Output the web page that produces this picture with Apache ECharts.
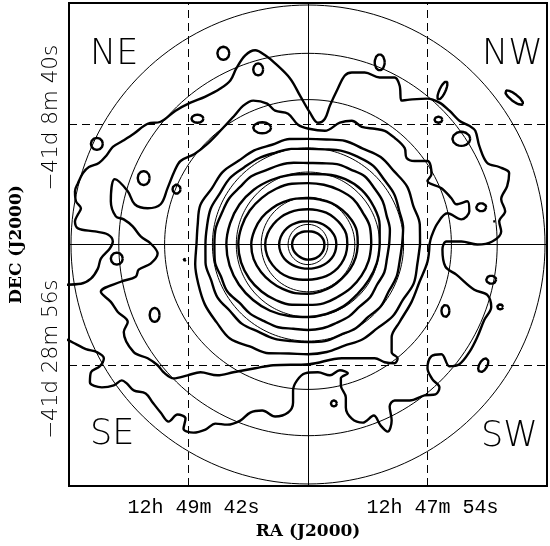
<!DOCTYPE html>
<html><head><meta charset="utf-8">
<script src="https://cdn.jsdelivr.net/npm/echarts@6/dist/echarts.min.js"></script>
<style>html,body{margin:0;padding:0;background:#fff}#c{width:550px;height:546px}</style>
</head><body><div id="c"></div>
<script>
// offsets from cluster centre (approx. arcsec-like units; dashed lines at +-120)
const xTickValues = [-120, 120];
const xTickLabels = ['12h 49m 42s', '12h 47m 54s'];
const yTickValues = [120, -120];
const yTickLabels = ['\u221241d 8m 40s', '\u221241d 28m 56s'];
const quadrantLabels = ['NE', 'NW', 'SE', 'SW'];
const refCircleRadii = [20, 47, 72, 96, 144, 190, 238];

// inner closed contours: radius at each position angle (0 = west/right, 90 = north)
const ringAngles = [0, 15, 30, 45, 60, 75, 90, 105, 120, 135, 150, 165, 180, 195, 210, 225, 240, 255, 270, 285, 300, 315, 330, 345];
const ring1 = [16.5, 16.3, 15.6, 14.8, 14, 13.4, 13, 13.4, 14, 14.8, 15.4, 15.8, 16, 15.8, 15.4, 15, 14.8, 14.9, 15, 15.2, 15.6, 16, 16.3, 16.5];
const ring2 = [28.5, 28.2, 27, 25.6, 24.4, 23.5, 23, 23.6, 24.6, 26, 27.3, 28.4, 29, 28.6, 27.6, 26.2, 25, 24.3, 24, 24.3, 25, 26.2, 27.4, 28.2];
const ring3 = [39.5, 39.8, 38.6, 37.4, 36.5, 35.4, 35, 35.6, 36.8, 38.5, 40.2, 42, 43, 42.4, 41, 39.5, 37.8, 36, 35, 35.2, 36.4, 37.5, 38.4, 39.2];
const ring4 = [50, 50.8, 50, 48.6, 47.5, 46.2, 46, 47.2, 48.8, 51, 53.5, 55.5, 57, 56.5, 54.5, 52.5, 51, 50, 49, 48.4, 48.2, 48, 48.8, 49.6];
const ring5 = [63.5, 64.5, 63.5, 64, 62.5, 61.5, 61, 62.5, 64, 65.5, 67.5, 69, 70, 69.5, 68, 66, 64, 62, 60, 60.5, 60, 61, 62, 63];
const ring6 = [72, 74.5, 76, 76.5, 75, 72, 70, 71.5, 74, 77, 79.5, 81, 82, 81.5, 80, 78, 76, 73.5, 72, 71.5, 71, 70, 70.5, 71.5];
// outer rings, finer angular sampling (every 10 degrees)
const ringAnglesFine = [0, 10, 20, 30, 40, 50, 60, 70, 80, 90, 100, 110, 120, 130, 140, 150, 160, 170, 180, 190, 200, 210, 220, 230, 240, 250, 260, 270, 280, 290, 300, 310, 320, 330, 340, 350];
const ring7 = [81.5, 83.5, 84, 86.5, 87, 88.5, 86, 85, 82, 81, 82.5, 84, 85, 88.5, 89, 91.5, 92, 94, 94, 95, 93, 93.5, 90, 90, 88, 87.5, 85, 85, 84.5, 83, 82.5, 80.5, 81.5, 80, 81.5, 80.5];
const ring8 = [94.5, 97, 97.5, 100, 100, 102, 100.5, 99, 96, 95, 96.5, 97, 99, 100, 102.5, 102, 104, 103, 103, 104.5, 103.5, 105, 102.5, 103, 100, 99.5, 97.5, 97, 97.5, 95.5, 96, 94, 95.5, 93.5, 94.5, 93.5];
const ring9 = [112.5, 114, 112.5, 115, 113, 113.5, 110, 109.5, 106, 105, 106.5, 105.5, 108, 108.5, 112, 111.5, 115, 112.5, 112, 115, 117, 119.5, 120, 122, 117, 115, 110, 109, 108.5, 107, 109, 108.5, 111, 110, 113, 111.5];

// second-lowest contour level (irregular)
const contourL2 = [[122,0],[124,8],[130,21],[140,31],[154,25],[162,33],[160,43],[149,40],[144,46],[134,56],[120,63],[124,70],[120,83],[107,83],[99,86],[97,96],[87,106],[77,113],[67,115],[54,117],[44,123],[32,121],[17,113],[1,115],[-10,119],[-20,130],[-33,133],[-41,140],[-55,143],[-65,138],[-74,128],[-88,113],[-101,100],[-114,90],[-128,83],[-134,73],[-141,56],[-148,40],[-161,36],[-174,40],[-181,53],[-194,65],[-198,43],[-193,28],[-185,25],[-176,18],[-168,8],[-158,1],[-151,-9],[-158,-19],[-170,-25],[-173,-32],[-188,-37],[-208,-47],[-198,-57],[-191,-67],[-181,-77],[-185,-87],[-175,-107],[-161,-113],[-151,-120],[-145,-127],[-135,-133],[-121,-130],[-108,-127],[-91,-130],[-75,-127],[-53,-123],[-35,-120],[1,-119],[34,-113],[67,-113],[77,-117],[87,-118],[90,-113],[84,-107],[84,-92],[92,-77],[104,-57],[112,-37],[120,-17],[122,0]];

// lowest contour level (irregular, runs off the east edge)
const contourL1 = [[-248,-40],[-228,-39],[-218,-34],[-211,-24],[-208,-14],[-199,-4],[-196,3],[-201,10],[-214,13],[-231,16],[-234,23],[-231,30],[-228,36],[-233,43],[-234,53],[-231,61],[-226,71],[-220,77],[-210,81],[-202,89],[-196,97],[-186,103],[-175,110],[-161,120],[-148,122],[-133,133],[-118,141],[-103,147],[-88,155],[-78,163],[-72,175],[-63,188],[-53,193],[-43,188],[-33,180],[-18,165],[-8,148],[2,131],[10,121],[17,125],[22,138],[30,155],[37,168],[44,171],[57,171],[72,166],[87,166],[92,158],[94,143],[102,144],[120,145],[132,141],[142,133],[152,123],[162,118],[168,113],[172,98],[180,81],[192,77],[202,71],[200,58],[194,45],[198,33],[192,23],[194,13],[185,3],[170,0],[154,3],[139,3],[135,-5],[138,-22],[149,-30],[167,-45],[180,-50],[184,-62],[177,-75],[170,-92],[162,-107],[152,-119],[142,-121],[134,-109],[124,-111],[120,-123],[125,-134],[132,-142],[128,-149],[117,-150],[102,-155],[87,-155],[82,-161],[84,-175],[80,-186],[73,-180],[66,-170],[55,-177],[44,-173],[38,-162],[38,-152],[33,-140],[33,-133],[40,-128],[32,-125],[22,-130],[10,-127],[-3,-128],[-11,-135],[-15,-145],[-15,-157],[-20,-167],[-33,-171],[-46,-165],[-58,-167],[-68,-175],[-81,-179],[-93,-178],[-103,-184],[-115,-187],[-125,-183],[-123,-173],[-131,-169],[-140,-176],[-148,-167],[-156,-157],[-163,-148],[-175,-145],[-182,-138],[-187,-135],[-195,-140],[-207,-142],[-219,-137],[-218,-127],[-209,-121],[-205,-113],[-212,-107],[-223,-104],[-233,-99],[-241,-95],[-248,-93]];

// small isolated contours: centre, half-sizes, tilt
const islandCenters = [[-85,190],[-50,174],[-111,125],[-212,100],[-165,66],[-132,55],[-192,-14],[-124,-15],[-154,-70],[72,181],[131,124],[135,153],[207,146],[154,105],[174,37],[187,23],[184,-35],[193,-62],[138,-66],[176,-120],[26,-158],[-46,116]];
const islandSizes = [[6,6.5],[5,6],[6,4],[6,6],[6,7],[4,4.5],[6,6],[1.2,1.2],[5,7],[5,8],[4,3],[3,10],[11,3.5],[9,7],[5,4],[1,1],[5,4],[3,2.5],[4,6],[4,7.5],[3,3],[9,5.5]];
const islandTilts = [0,0,0,0,0,0,0,0,0,0,0,-25,-37,0,0,0,0,0,0,-30,0,0];

function ringPoints(angles, radii) {
  const pts = angles.map((a, i) => {
    const t = a * Math.PI / 180;
    return [radii[i] * Math.cos(t), radii[i] * Math.sin(t)];
  });
  pts.push(pts[0]);
  return pts;
}
function ellipsePoints(c, s, tilt, n) {
  const pts = [];
  const tr = tilt * Math.PI / 180;
  for (let i = 0; i <= n; i++) {
    const t = 2 * Math.PI * i / n;
    const ex = s[0] * Math.cos(t), ey = s[1] * Math.sin(t);
    pts.push([c[0] + ex * Math.cos(tr) - ey * Math.sin(tr), c[1] + ex * Math.sin(tr) + ey * Math.cos(tr)]);
  }
  return pts;
}

const series = [];
const base = {type: 'line', showSymbol: false, symbol: 'none', silent: true, animation: false, clip: true};
refCircleRadii.forEach(r => {
  series.push(Object.assign({}, base, {data: ellipsePoints([0, 0], [r, r], 0, 180), lineStyle: {color: '#000', width: 1}, z: 2}));
});
const thick = {color: '#000', width: 2.4};
[ring1, ring2, ring3, ring4, ring5, ring6].forEach(r => {
  series.push(Object.assign({}, base, {data: ringPoints(ringAngles, r), smooth: 0.4, lineStyle: thick, z: 3}));
});
[ring7, ring8, ring9].forEach(r => {
  series.push(Object.assign({}, base, {data: ringPoints(ringAnglesFine, r), smooth: 0.35, lineStyle: thick, z: 3}));
});
series.push(Object.assign({}, base, {data: contourL2, smooth: 0.35, lineStyle: thick, z: 3}));
series.push(Object.assign({}, base, {data: contourL1, smooth: 0.35, lineStyle: thick, z: 3}));
islandCenters.forEach((c, i) => {
  series.push(Object.assign({}, base, {data: ellipsePoints(c, islandSizes[i], islandTilts[i], 24), lineStyle: thick, z: 3}));
});
// reference cross lines
series.push(Object.assign({}, base, {data: [], markLine: {
  silent: true, symbol: 'none', label: {show: false}, animation: false,
  data: [
    {xAxis: 0, lineStyle: {type: 'solid', color: '#000', width: 1}},
    {yAxis: 0, lineStyle: {type: 'solid', color: '#000', width: 1}},
    {xAxis: xTickValues[0], lineStyle: {type: [8, 5], color: '#000', width: 1}},
    {xAxis: xTickValues[1], lineStyle: {type: [8, 5], color: '#000', width: 1}},
    {yAxis: yTickValues[0], lineStyle: {type: [8, 5], color: '#000', width: 1}},
    {yAxis: yTickValues[1], lineStyle: {type: [8, 5], color: '#000', width: 1}}
  ]}}));

const chart = echarts.init(document.getElementById('c'), null, {renderer: 'canvas'});
const qFont = {fill: '#000', fontFamily: 'DejaVu Sans', fontWeight: 200, fontSize: 35};
chart.setOption({
  backgroundColor: '#fff',
  animation: false,
  grid: {left: 67, right: 1, top: 1, bottom: 60, show: true, borderColor: '#000', borderWidth: 2, backgroundColor: 'transparent'},
  xAxis: {
    type: 'value', min: -240, max: 240, interval: 120,
    name: 'RA (J2000)', nameLocation: 'middle', nameGap: 33,
    nameTextStyle: {fontFamily: 'DejaVu Serif', fontWeight: 'bold', fontSize: 17, color: '#000'},
    axisLine: {show: false}, axisTick: {show: false}, splitLine: {show: false},
    axisLabel: {
      fontFamily: 'Liberation Mono', fontSize: 20, color: '#000', margin: 12, padding: [0, 0, 0, 10],
      formatter: v => { const i = xTickValues.indexOf(v); return i >= 0 ? xTickLabels[i] : ''; }
    }
  },
  yAxis: {
    type: 'value', min: -240, max: 240, interval: 120,
    name: 'DEC (J2000)', nameLocation: 'middle', nameGap: 44, nameRotate: 90,
    nameTextStyle: {fontFamily: 'DejaVu Serif', fontWeight: 'bold', fontSize: 17, color: '#000'},
    axisLine: {show: false}, axisTick: {show: false}, splitLine: {show: false},
    axisLabel: {
      rotate: 90, fontFamily: 'DejaVu Sans', fontWeight: 200, fontSize: 21.5, color: '#000', margin: 7, padding: [0, 0, 0, 12],
      formatter: v => { const i = yTickValues.indexOf(v); return i >= 0 ? yTickLabels[i] : ''; }
    }
  },
  graphic: [
    {type: 'text', left: 90, top: 37, style: Object.assign({text: quadrantLabels[0]}, qFont)},
    {type: 'text', left: 482, top: 37, style: Object.assign({text: quadrantLabels[1]}, qFont)},
    {type: 'text', left: 90, top: 417, style: Object.assign({text: quadrantLabels[2]}, qFont)},
    {type: 'text', left: 481, top: 419, style: Object.assign({text: quadrantLabels[3]}, qFont)}
  ],
  series: series
});
</script></body></html>
